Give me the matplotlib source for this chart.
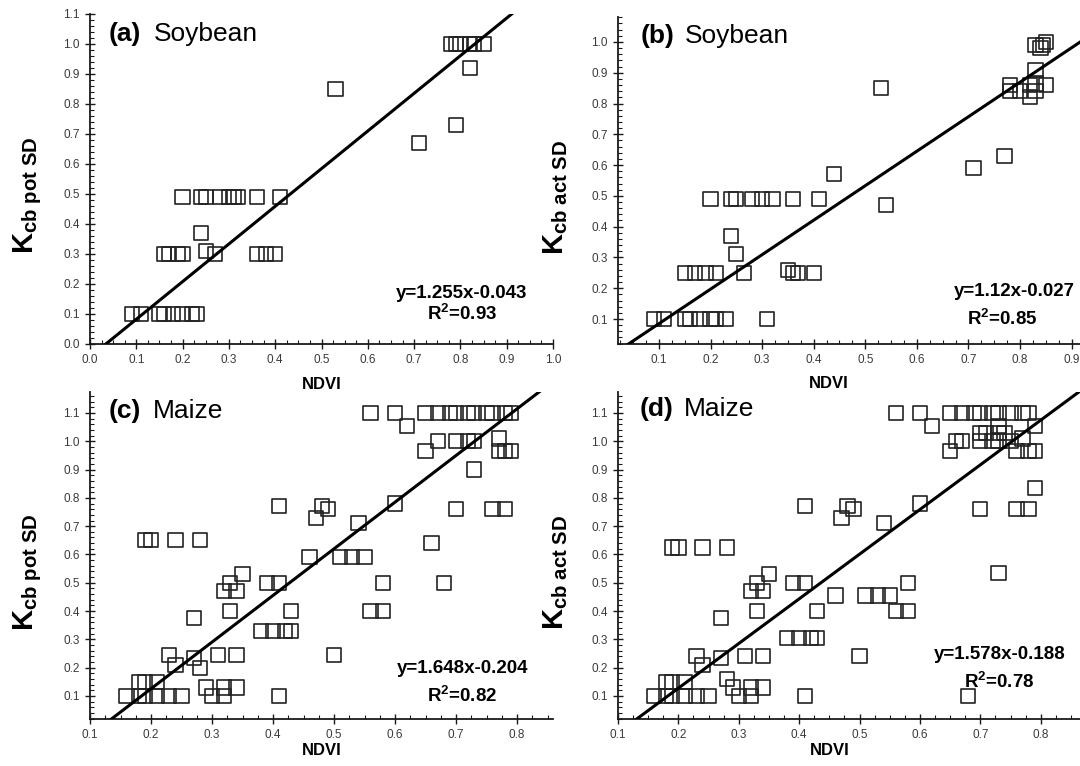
import matplotlib
matplotlib.use("Agg")
import matplotlib.pyplot as plt
from matplotlib.ticker import MultipleLocator, FormatStrFormatter

plt.rcParams['font.family'] = ['Liberation Sans', 'DejaVu Sans']
plt.rcParams['mathtext.fontset'] = 'custom'
plt.rcParams['mathtext.rm'] = 'Liberation Sans'
plt.rcParams['mathtext.bf'] = 'Liberation Sans:bold'
plt.rcParams['mathtext.it'] = 'Liberation Sans:italic'

# ---------------- (a) Soybean, Kcb pot SD ----------------
ndvi_a = [0.78, 0.79, 0.80, 0.82, 0.83, 0.85,
          0.82, 0.53, 0.79, 0.71,
          0.20, 0.24, 0.25, 0.28, 0.30, 0.31, 0.32, 0.36, 0.41,
          0.24,
          0.16, 0.17, 0.19, 0.20, 0.25, 0.27, 0.36, 0.38, 0.40,
          0.09, 0.11, 0.15, 0.16, 0.18, 0.20, 0.22, 0.23]
kcb_a = [1.00, 1.00, 1.00, 1.00, 1.00, 1.00,
         0.92, 0.85, 0.73, 0.67,
         0.49, 0.49, 0.49, 0.49, 0.49, 0.49, 0.49, 0.49, 0.49,
         0.37,
         0.30, 0.30, 0.30, 0.30, 0.31, 0.30, 0.30, 0.30, 0.30,
         0.10, 0.10, 0.10, 0.10, 0.10, 0.10, 0.10, 0.10]

# ---------------- (b) Soybean, Kcb act SD ----------------
ndvi_b = [0.83, 0.85, 0.84, 0.845, 0.83, 0.53,
          0.78, 0.78, 0.80, 0.82, 0.82, 0.83, 0.85, 0.83,
          0.77, 0.71, 0.44,
          0.20, 0.24, 0.25, 0.28, 0.30, 0.32, 0.36, 0.41,
          0.54, 0.24, 0.25,
          0.15, 0.17, 0.19, 0.21, 0.265, 0.35, 0.36, 0.37, 0.40,
          0.09, 0.11, 0.15, 0.16, 0.18, 0.20, 0.21, 0.23, 0.31]
kcb_b = [0.99, 1.00, 0.98, 0.99, 0.91, 0.85,
         0.86, 0.84, 0.84, 0.82, 0.86, 0.84, 0.86, 0.865,
         0.63, 0.59, 0.57,
         0.49, 0.49, 0.49, 0.49, 0.49, 0.49, 0.49, 0.49,
         0.47, 0.37, 0.31,
         0.25, 0.25, 0.25, 0.25, 0.25, 0.26, 0.25, 0.25, 0.25,
         0.10, 0.10, 0.10, 0.10, 0.10, 0.10, 0.10, 0.10, 0.10]

# ---------------- (c) Maize, Kcb pot SD ----------------
ndvi_c = [0.56, 0.60, 0.65, 0.67, 0.69, 0.70, 0.72, 0.73, 0.75, 0.76, 0.78, 0.79,
          0.62,
          0.67, 0.70, 0.72, 0.73, 0.77,
          0.65, 0.77, 0.78, 0.79,
          0.73, 0.60,
          0.70, 0.76, 0.78,
          0.41, 0.48, 0.49, 0.47, 0.54,
          0.19, 0.20, 0.24, 0.28,
          0.66,
          0.46, 0.51, 0.53, 0.55,
          0.35,
          0.33, 0.39, 0.41, 0.58, 0.68,
          0.32, 0.34,
          0.33, 0.43, 0.56, 0.58,
          0.27,
          0.38, 0.40, 0.42, 0.43,
          0.23, 0.31, 0.34, 0.50,
          0.24, 0.27, 0.28,
          0.18, 0.19, 0.21,
          0.29, 0.32, 0.34,
          0.16, 0.18, 0.19, 0.21, 0.23, 0.25, 0.30, 0.32, 0.41]
kcb_c = [1.10, 1.10, 1.10, 1.10, 1.10, 1.10, 1.10, 1.10, 1.10, 1.10, 1.10, 1.10,
         1.055,
         1.00, 1.00, 1.00, 1.00, 1.01,
         0.965, 0.965, 0.965, 0.965,
         0.90, 0.78,
         0.76, 0.76, 0.76,
         0.77, 0.77, 0.76, 0.73, 0.71,
         0.65, 0.65, 0.65, 0.65,
         0.64,
         0.59, 0.59, 0.59, 0.59,
         0.53,
         0.50, 0.50, 0.50, 0.50, 0.50,
         0.47, 0.47,
         0.40, 0.40, 0.40, 0.40,
         0.375,
         0.33, 0.33, 0.33, 0.33,
         0.245, 0.245, 0.245, 0.245,
         0.21, 0.235, 0.20,
         0.15, 0.15, 0.15,
         0.13, 0.13, 0.13,
         0.10, 0.10, 0.10, 0.10, 0.10, 0.10, 0.10, 0.10, 0.10]

# ---------------- (d) Maize, Kcb act SD ----------------
ndvi_d = [0.56, 0.60, 0.65, 0.67, 0.69, 0.70, 0.72, 0.73, 0.75, 0.77, 0.78,
          0.62, 0.73, 0.79,
          0.70, 0.71, 0.73, 0.74,
          0.66, 0.67, 0.70, 0.72, 0.73, 0.75,
          0.77,
          0.65, 0.76, 0.78, 0.79,
          0.79, 0.60,
          0.70, 0.76, 0.78,
          0.41, 0.48, 0.49, 0.47, 0.54,
          0.19, 0.20, 0.24, 0.28,
          0.73, 0.35,
          0.33, 0.39, 0.41, 0.58,
          0.32, 0.34,
          0.46, 0.51, 0.53, 0.55,
          0.33, 0.43, 0.56, 0.58,
          0.27,
          0.38, 0.40, 0.42, 0.43,
          0.23, 0.31, 0.34, 0.50,
          0.24, 0.27, 0.28,
          0.18, 0.19, 0.21,
          0.29, 0.32, 0.34,
          0.16, 0.18, 0.19, 0.21, 0.23, 0.25, 0.30, 0.32, 0.41, 0.68]
kcb_d = [1.10, 1.10, 1.10, 1.10, 1.10, 1.10, 1.10, 1.10, 1.10, 1.10, 1.10,
         1.055, 1.055, 1.055,
         1.03, 1.03, 1.03, 1.03,
         1.00, 1.00, 1.00, 1.00, 1.00, 1.00,
         1.01,
         0.965, 0.965, 0.965, 0.965,
         0.835, 0.78,
         0.76, 0.76, 0.76,
         0.77, 0.77, 0.76, 0.73, 0.71,
         0.625, 0.625, 0.625, 0.625,
         0.535, 0.53,
         0.50, 0.50, 0.50, 0.50,
         0.47, 0.47,
         0.455, 0.455, 0.455, 0.455,
         0.40, 0.40, 0.40, 0.40,
         0.375,
         0.306, 0.306, 0.306, 0.306,
         0.24, 0.24, 0.24, 0.24,
         0.21, 0.235, 0.16,
         0.15, 0.15, 0.15,
         0.13, 0.13, 0.13,
         0.10, 0.10, 0.10, 0.10, 0.10, 0.10, 0.10, 0.10, 0.10, 0.10]

# Regression fits (slope, intercept, R^2)
fit_a = (1.255, -0.043, 0.93)
fit_b = (1.12, -0.027, 0.85)
fit_c = (1.648, -0.204, 0.82)
fit_d = (1.578, -0.188, 0.78)

panel_tags = ['(a)', '(b)', '(c)', '(d)']
crops = ['Soybean', 'Soybean', 'Maize', 'Maize']
ylabels = [r'$\mathbf{K}_{\mathbf{cb\ pot\ SD}}$', r'$\mathbf{K}_{\mathbf{cb\ act\ SD}}$',
           r'$\mathbf{K}_{\mathbf{cb\ pot\ SD}}$', r'$\mathbf{K}_{\mathbf{cb\ act\ SD}}$']

W, H = 1080, 766
fig = plt.figure(figsize=(W / 100, H / 100), dpi=100)


def px_axes(left, bottom, width, height):
    return fig.add_axes([left / W, 1 - bottom / H, width / W, height / H])


panels = [
    # axes rectangle in px, axis limits, data, fit, text positions (data coords)
    dict(rect=(90, 344, 463, 330), xlim=(0.0, 1.0), ylim=(0.0, 1.1),
         x=ndvi_a, y=kcb_a, fit=fit_a, tag=(0.041, 1.034),
         eq=(0.803, 0.17), r2=(0.803, 0.10),
         ylab=(-0.135, 0.45), xlab=(0.5, -0.122)),
    dict(rect=(618, 344, 469, 327), xlim=(0.0205, 0.93), ylim=(0.0188, 1.081),
         x=ndvi_b, y=kcb_b, fit=fit_b, tag=(0.064, 1.018),
         eq=(0.79, 0.19), r2=(0.765, 0.10),
         ylab=(-0.132, 0.45), xlab=(0.45, -0.122)),
    dict(rect=(90, 719, 463, 327), xlim=(0.1, 0.859), ylim=(0.0187, 1.174),
         x=ndvi_c, y=kcb_c, fit=fit_c, tag=(0.131, 1.106),
         eq=(0.71, 0.198), r2=(0.71, 0.10),
         ylab=(-0.135, 0.45), xlab=(0.5, -0.095)),
    dict(rect=(618, 719, 471, 327), xlim=(0.1, 0.88), ylim=(0.0187, 1.174),
         x=ndvi_d, y=kcb_d, fit=fit_d, tag=(0.136, 1.114),
         eq=(0.732, 0.245), r2=(0.732, 0.151),
         ylab=(-0.132, 0.45), xlab=(0.45, -0.095)),
]

ink = '#1a1a1a'
for i, p in enumerate(panels):
    ax = px_axes(*p['rect'])
    ax.set_xlim(*p['xlim'])
    ax.set_ylim(*p['ylim'])
    for s in ('top', 'right'):
        ax.spines[s].set_visible(False)
    for s in ('left', 'bottom'):
        ax.spines[s].set_linewidth(1.3)
        ax.spines[s].set_color(ink)

    ax.scatter(p['x'], p['y'], marker='s', s=105, facecolors='none',
               edgecolors='#222222', linewidths=1.2, zorder=2, clip_on=False)

    slope, icpt, r2 = p['fit']
    x0, x1 = p['xlim']
    ax.plot([x0, x1], [slope * x0 + icpt, slope * x1 + icpt], color='black',
            lw=2.2, zorder=3)

    ax.xaxis.set_major_locator(MultipleLocator(0.1))
    ax.xaxis.set_minor_locator(MultipleLocator(0.025))
    ax.yaxis.set_major_locator(MultipleLocator(0.1))
    ax.yaxis.set_minor_locator(MultipleLocator(0.02))
    ax.xaxis.set_major_formatter(FormatStrFormatter('%.1f'))
    ax.yaxis.set_major_formatter(FormatStrFormatter('%.1f'))
    ax.tick_params(which='major', direction='inout', length=7, width=1.0,
                   color=ink, labelsize=8.5, labelcolor='#3a3a3a', pad=4)
    ax.tick_params(which='minor', direction='in', length=3, width=0.8, color=ink)

    tx, ty = p['tag']
    ax.text(tx, ty, panel_tags[i], fontsize=19, fontweight='bold', va='center',
            ha='left', color='black')
    ax.annotate(crops[i], xy=(tx, ty), xycoords='data', xytext=(32, 0),
                textcoords='offset points', fontsize=19, va='center', ha='left',
                color='black')

    ex, ey = p['eq']
    ax.text(ex, ey, f'y={slope:g}x{icpt:g}', fontsize=13.5, fontweight='bold',
            ha='center', va='center', color='black')
    rx, ry = p['r2']
    ax.text(rx, ry, r'R$^{\mathbf{2}}$' + f'={r2:.2f}', fontsize=13.5,
            fontweight='bold', ha='center', va='center', color='black')

    lx, ly = p['ylab']
    ax.text(lx, ly, ylabels[i], transform=ax.transAxes, rotation=90, fontsize=21,
            ha='center', va='center', color='black')
    xx, xy_ = p['xlab']
    ax.text(xx, xy_, 'NDVI', transform=ax.transAxes, fontsize=12,
            fontweight='bold', ha='center', va='center', color='black')

fig.savefig('out.png', dpi=100)
